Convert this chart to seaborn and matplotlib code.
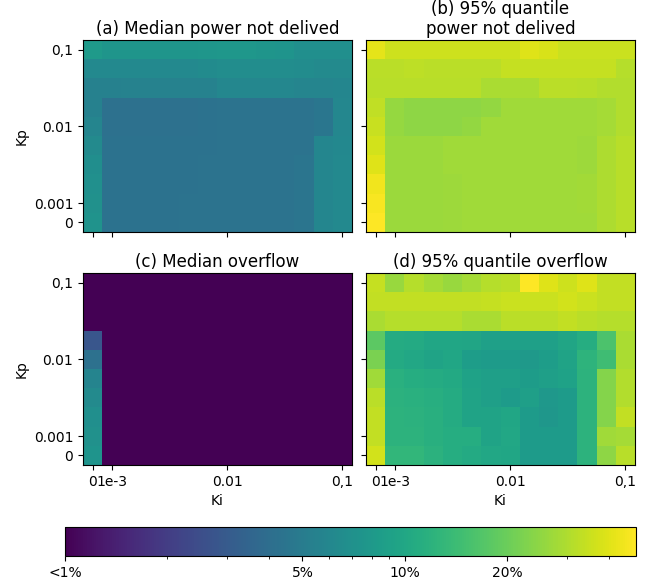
import numpy as np
import matplotlib
matplotlib.use("Agg")
import matplotlib.pyplot as plt
import seaborn as sns
from matplotlib.colors import LogNorm

# Axis tick labels (Ki columns: 0 then log-spaced 1e-3..0.1; Kp rows: 0.1 top .. 0 bottom)
ki_tick_idx = [0, 1, 7, 13]
ki_tick_labels = ["0", "1e-3", "0.01", "0,1"]
kp_tick_idx = [0, 4, 8, 9]
kp_tick_labels = ["0,1", "0.01", "0.001", "0"]

titles = ["(a) Median power not delived",
          "(b) 95% quantile\npower not delived",
          "(c) Median overflow",
          "(d) 95% quantile overflow"]

# values in percent; rows top (Kp=0.1) to bottom (Kp=0), columns Ki
median_power = [
    [8.1, 7.5, 7.5, 7.5, 7.5, 7.5, 7.7, 7.8, 7.8, 7.5, 7.4, 6.8, 6.8, 6.8],
    [6.2, 6.2, 6.2, 6.2, 6.2, 6.2, 6.4, 6.6, 6.6, 6.6, 6.6, 6.5, 6.3, 6.3],
    [5.4, 5.4, 5.6, 5.6, 5.6, 5.6, 5.6, 6.0, 6.0, 6.0, 6.0, 5.8, 5.8, 5.9],
    [5.4, 4.2, 4.2, 4.2, 4.2, 4.2, 4.3, 4.4, 4.4, 4.4, 4.4, 4.4, 4.6, 6.0],
    [5.8, 4.2, 4.2, 4.2, 4.2, 4.2, 4.3, 4.4, 4.4, 4.4, 4.4, 4.4, 4.6, 6.0],
    [6.3, 4.3, 4.3, 4.3, 4.3, 4.3, 4.3, 4.4, 4.4, 4.4, 4.4, 4.4, 5.9, 6.1],
    [6.7, 4.3, 4.3, 4.3, 4.3, 4.3, 4.4, 4.4, 4.4, 4.4, 4.4, 4.5, 5.9, 6.2],
    [6.9, 4.3, 4.3, 4.3, 4.3, 4.3, 4.4, 4.4, 4.4, 4.4, 4.4, 4.5, 5.9, 6.2],
    [7.0, 4.3, 4.3, 4.3, 4.3, 4.4, 4.4, 4.4, 4.4, 4.4, 4.4, 4.5, 5.9, 6.2],
    [7.3, 4.3, 4.3, 4.3, 4.3, 4.4, 4.4, 4.4, 4.4, 4.4, 4.4, 4.5, 5.9, 6.2],
]
q95_power = [
    [41, 36, 36, 36, 36, 36, 36, 36, 40, 38, 35, 35, 35, 35],
    [32, 32, 32.5, 32, 32, 32, 32, 34, 34, 34, 34, 34, 34, 31],
    [31.5, 31.5, 31.5, 31.5, 31.5, 31.5, 29.5, 29.5, 29.5, 32, 32, 31.5, 30.5, 30.5],
    [33, 26, 25, 25, 25, 25, 25.8, 27.5, 27.5, 27.5, 27.5, 27.5, 28.5, 30.8],
    [34.5, 26, 25, 25, 25, 25.8, 27.5, 27.5, 27.5, 27.5, 27.5, 27.5, 28.5, 30.8],
    [37, 27, 27, 27, 27.5, 27.5, 27.5, 27.5, 27.5, 27.5, 27.5, 27.3, 30, 31.5],
    [40, 27, 27, 27, 27.5, 27.5, 27.5, 27.5, 27.5, 27.5, 27.5, 27.3, 30, 31.5],
    [44, 27, 27, 27, 27.2, 27.5, 27.5, 27.5, 27.5, 27.5, 27.5, 28, 30, 31.5],
    [46, 27, 27, 27, 27.2, 27.5, 27.5, 27.5, 27.5, 27.5, 27.5, 28, 30, 31.5],
    [48, 27, 27, 27, 27.2, 27.5, 27.5, 27.5, 27.5, 27.5, 27.5, 27.5, 30, 31.5],
]
median_overflow = [
    [0] * 14,
    [0] * 14,
    [0] * 14,
    [2.8] + [0] * 13,
    [4.2] + [0] * 13,
    [5.7] + [0] * 13,
    [6.3] + [0] * 13,
    [6.8] + [0] * 13,
    [7.0] + [0] * 13,
    [7.4] + [0] * 13,
]
q95_overflow = [
    [34, 26.5, 31, 28.5, 26.5, 28.5, 31, 32, 48, 40, 36, 40, 33.5, 33.5],
    [33.5, 33.5, 33.5, 33.5, 33.5, 33.5, 34, 35, 35, 35, 37, 35, 33.5, 33.5],
    [29.5, 31, 31, 31, 31, 29.5, 29.5, 32, 32, 32, 33.5, 32, 31, 31],
    [18, 10.7, 10.5, 9.9, 9.9, 9.7, 8.9, 8.9, 8.9, 8.9, 9.7, 11, 16, 29.5],
    [22, 10.5, 10.0, 9.4, 9.9, 8.5, 8.3, 8.3, 8.0, 8.5, 9.4, 12.3, 14.5, 29.5],
    [27.5, 11.6, 11.0, 10.7, 10.3, 9.3, 8.8, 8.8, 8.4, 8.8, 9.3, 12.1, 23.5, 30.5],
    [32, 11.9, 11.6, 11.3, 10.7, 9.5, 8.8, 8.3, 8.8, 7.9, 8.3, 12.1, 23.5, 30.5],
    [33.5, 12.1, 11.9, 11.5, 10.7, 9.5, 9.4, 9.9, 8.3, 7.8, 8.3, 12.1, 23.5, 33.5],
    [33.5, 12.1, 12.1, 11.5, 11.0, 11.0, 9.4, 10.0, 8.3, 8.3, 8.3, 12.1, 27.5, 28.5],
    [37, 12.8, 12.8, 11.9, 11.0, 10.5, 10.0, 9.9, 8.3, 8.3, 8.3, 12.1, 25, 31.5],
]

cbar_ticks = [1, 5, 10, 20]
cbar_labels = ["<1%", "5%", "10%", "20%"]
vmin, vmax = 1, 48

W, H = 652, 586
fig = plt.figure(figsize=(W / 100, H / 100), dpi=100)

def box(x0, y0, x1, y1):
    return [x0 / W, 1 - y1 / H, (x1 - x0) / W, (y1 - y0) / H]

positions = [box(83, 40, 352, 232), box(366, 40, 635, 232),
             box(83, 273, 352, 465), box(366, 273, 635, 465)]
datasets = [median_power, q95_power, median_overflow, q95_overflow]

norm = LogNorm(vmin=vmin, vmax=vmax)
mesh = None
for i, (pos, data, title) in enumerate(zip(positions, datasets, titles)):
    ax = fig.add_axes(pos)
    arr = np.clip(np.array(data, dtype=float), 0.5, None)
    sns.heatmap(arr, ax=ax, cmap="viridis", norm=norm, cbar=False,
                xticklabels=False, yticklabels=False)
    mesh = ax.collections[0]
    for s in ax.spines.values():
        s.set_visible(True)
        s.set_color("black")
        s.set_linewidth(0.8)
    ax.set_xticks([k + 0.5 for k in ki_tick_idx])
    ax.set_yticks([k + 0.5 for k in kp_tick_idx])
    ax.tick_params(axis="both", length=3.5, width=0.8, labelsize=10)
    if i >= 2:
        ax.set_xticklabels(ki_tick_labels, rotation=0)
        ax.set_xlabel("Ki", fontsize=10)
    else:
        ax.set_xticklabels([])
    if i % 2 == 0:
        ax.set_yticklabels(kp_tick_labels, rotation=0)
        ax.set_ylabel("Kp", fontsize=10)
    else:
        ax.set_yticklabels([])
    ax.set_title(title, fontsize=12, pad=4)

cax = fig.add_axes(box(65, 527, 636, 556))
cb = fig.colorbar(mesh, cax=cax, orientation="horizontal")
cb.set_ticks(cbar_ticks)
cb.set_ticklabels(cbar_labels)
cb.ax.tick_params(labelsize=10)
cb.outline.set_linewidth(0.8)

fig.savefig("out.png", dpi=100)
